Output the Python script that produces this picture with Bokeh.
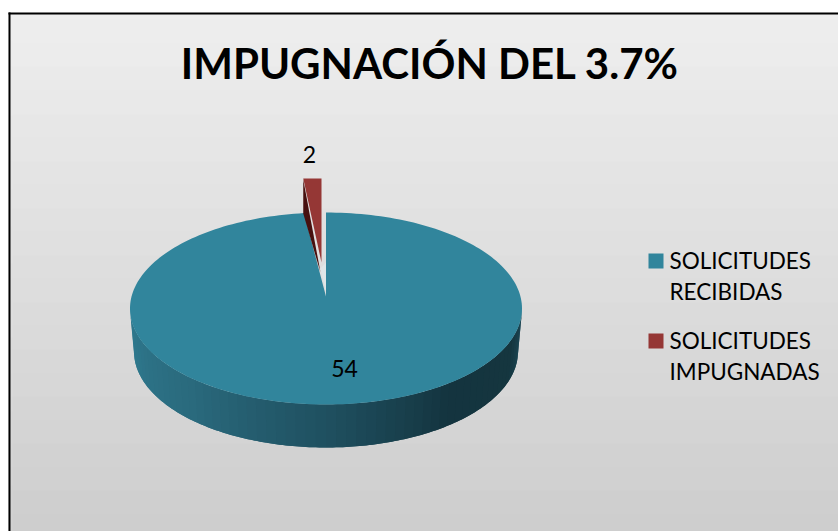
import math
from bokeh.plotting import figure
from bokeh.models import Range1d
from bokeh.core.properties import value
from bokeh.embed import file_html
from bokeh.resources import INLINE

# --- chart content
title = "IMPUGNACIÓN DEL 3.7%"
categories = ["SOLICITUDES RECIBIDAS", "SOLICITUDES IMPUGNADAS"]
values = [54, 2]
colors = ["#31859c", "#953735"]
legend_lines = [["SOLICITUDES", "RECIBIDAS"], ["SOLICITUDES", "IMPUGNADAS"]]

# --- layout (window pixels; the page margin is removed so the chart can reach the window edge)
W, H = 838, 531
FONT = "Lato"
cx, cy = 325.5, 308.0      # ellipse centre of the top face
rx, ry = 196.0, 96.0
apex_y = 296.0             # perspective: the slices meet here
depth = 43.0
bottom_rx = 192.0
view_squeeze = 0.5         # on-screen shrink of the small wedge's sweep
explode = 34.0
red_bottom = 272.0

p = figure(width=W, height=H, output_backend="svg", toolbar_location=None,
           x_range=Range1d(0, W), y_range=Range1d(H, 0),
           min_border=0, outline_line_color=None)
p.axis.visible = False
p.grid.visible = False
p.background_fill_color = "#ffffff"
p.border_fill_color = "#ffffff"


def mix(a, b, t):
    a = [int(a[i:i + 2], 16) for i in (1, 3, 5)]
    b = [int(b[i:i + 2], 16) for i in (1, 3, 5)]
    return "#%02x%02x%02x" % tuple(round(u + (v - u) * t) for u, v in zip(a, b))


def ramp(stops, t):
    for (t0, c0), (t1, c1) in zip(stops, stops[1:]):
        if t <= t1:
            return mix(c0, c1, (t - t0) / (t1 - t0))
    return stops[-1][1]


# chart area gradient
BG_TOP, BG_BOTTOM = "#e9e9e9", "#bdbdbd"
BG_L, BG_T = 8, 13
ys = list(range(BG_T, H))
p.quad(left=BG_L, right=W, top=ys, bottom=[y + 1 for y in ys],
       fill_color=[mix(BG_TOP, BG_BOTTOM, (y - BG_T) / (H - BG_T)) for y in ys],
       line_color=None)
# pale inner rim beside the frame
p.quad(left=10, right=12, top=ys, bottom=[y + 1 for y in ys],
       fill_color=[mix("#eeeeee", "#d2d2d2", (y - BG_T) / (H - BG_T)) for y in ys],
       line_color=None)
# frame: left and top edges
p.quad(left=[8, 8], right=[10, W], top=[12, 12], bottom=[H, 14],
       fill_color="#000000", line_color=None)

# side wall of the pie
WALL = [(0.0, "#2f7a8f"), (0.25, "#2a6a7d"), (0.5, "#1f5060"), (0.72, "#14343f"),
        (0.9, "#15363f"), (1.0, "#1e4a58")]
steps = 60
xs_w, ys_w, cs_w = [], [], []
for i in range(steps):
    # strips run left to right, each one reaching two steps on so no seam shows
    a0 = math.pi * (1 - i / steps)
    a1 = max(0.0, math.pi * (1 - (i + 2) / steps))
    arc_a = [a0 + (a1 - a0) * k / 6 for k in range(7)]
    top_pts = [(cx + rx * math.cos(a), cy + ry * math.sin(a)) for a in arc_a]
    bot_pts = [(cx + bottom_rx * math.cos(a), cy + depth + ry * math.sin(a)) for a in reversed(arc_a)]
    xs_w.append([q[0] for q in top_pts + bot_pts])
    ys_w.append([q[1] for q in top_pts + bot_pts])
    cs_w.append(ramp(WALL, i / (steps - 1)))
p.patches(xs_w, ys_w, fill_color=cs_w, line_color=None)

# sweep of each slice
total = sum(values)
sweep_small = 2 * math.pi * values[1] / total * view_squeeze
blue_from = 0.0
blue_to = 2 * math.pi - sweep_small


def on_ellipse(theta):  # clockwise from 12 o'clock
    return cx + rx * math.sin(theta), cy - ry * math.cos(theta)


# blue top face
n = 240
arc = [on_ellipse(blue_from + (blue_to - blue_from) * i / n) for i in range(n + 1)]
p.patch([cx] + [q[0] for q in arc], [apex_y] + [q[1] for q in arc],
        fill_color=colors[0], line_color=None)

# exploded red slice: top face plus its dark cut side
left_x = cx + rx * math.sin(-sweep_small) - 0.8
right_x = cx - 4.5
top_y = cy - ry - explode
p.patch([left_x, left_x, right_x - 1], [top_y + 1, cy - ry + 1, red_bottom],
        fill_color="#47100f", line_color=None)
p.patch([left_x, right_x, right_x], [top_y, top_y, red_bottom - 10],
        fill_color=colors[1], line_color=None)
# pale sliver beneath the red slice
p.patch([right_x - 1, cx, cx], [red_bottom - 4, apex_y - 4, red_bottom - 10],
        fill_color="#dfe6e8", line_color=None)

# data labels
p.text(x=[344], y=[368], text=[str(values[0])], text_font=value(FONT), text_font_size="23px",
       text_color="#000000", text_align="center", text_baseline="middle")
p.text(x=[309], y=[154], text=[str(values[1])], text_font=value(FONT), text_font_size="23px",
       text_color="#000000", text_align="center", text_baseline="middle")

# title
p.text(x=[429.5], y=[62], text=[title], text_font=value(FONT), text_font_size="42px",
       text_font_style="bold", text_color="#000000", text_align="center", text_baseline="middle")

# legend
sw_y = [253, 333]
p.quad(left=[648, 648], right=[663, 663], top=sw_y, bottom=[y + 15 for y in sw_y],
       fill_color=colors, line_color=None)
for lines, y in zip(legend_lines, sw_y):
    p.text(x=[669, 669], y=[y + 6.5, y + 37.5], text=lines, text_font=value(FONT),
           text_font_size="22.5px", text_color="#000000", text_align="left", text_baseline="middle")

html = file_html(p, INLINE)
html = html.replace("<body>", '<body style="margin:0;overflow:hidden">', 1)
open("out.html", "w").write(html)
